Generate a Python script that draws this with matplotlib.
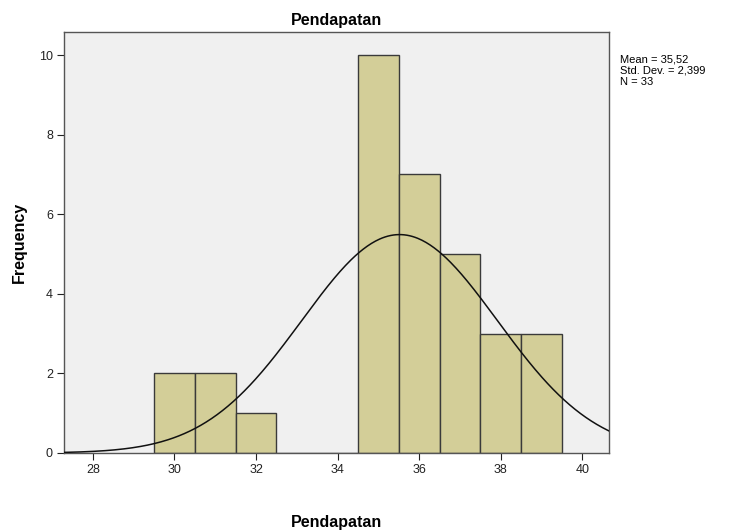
import numpy as np
import matplotlib
matplotlib.use("Agg")
import matplotlib.pyplot as plt

plt.rcParams['font.family'] = ['Liberation Sans', 'DejaVu Sans']

bin_centers = [30, 31, 32, 33, 34, 35, 36, 37, 38, 39]
frequencies = [2, 2, 1, 0, 0, 10, 7, 5, 3, 3]
mean_val = 35.52
std_val = 2.399
n_val = 33
x_ticks = [28, 30, 32, 34, 36, 38, 40]
y_ticks = [0, 2, 4, 6, 8, 10]

fig = plt.figure(figsize=(7.33, 5.32), dpi=100)
ax = fig.add_axes([0.0873, 0.1485, 0.7437, 0.7915])
ax.set_facecolor('#F0F0F0')

ax.bar(bin_centers, frequencies, width=1.0, color='#D3CE98',
       edgecolor='#3a3a3a', linewidth=1.0, zorder=2)

xs = np.linspace(27.29, 40.66, 400)
ys = n_val * 1.0 / (std_val * np.sqrt(2 * np.pi)) * np.exp(-0.5 * ((xs - mean_val) / std_val) ** 2)
ax.plot(xs, ys, color='#111111', linewidth=1.1, zorder=3)

ax.set_xlim(27.29, 40.66)
ax.set_ylim(0, 10.58)
ax.set_xticks(x_ticks)
ax.set_yticks(y_ticks)
ax.tick_params(axis='both', direction='out', length=5, width=0.8, labelsize=9, colors='#222222', pad=3)
for s in ax.spines.values():
    s.set_color('#555555')
    s.set_linewidth(1.0)

ax.set_title('Pendapatan', fontsize=11.5, fontweight='bold', pad=5)
ax.set_xlabel('Pendapatan', fontsize=11.5, fontweight='bold', labelpad=28)
ax.set_ylabel('Frequency', fontsize=11.5, fontweight='bold', labelpad=9)

fig.text(0.846, 0.897, 'Mean = 35,52\nStd. Dev. = 2,399\nN = 33', fontsize=8,
         va='top', ha='left', linespacing=1.15)

fig.savefig('out.png', dpi=100, facecolor='white')
